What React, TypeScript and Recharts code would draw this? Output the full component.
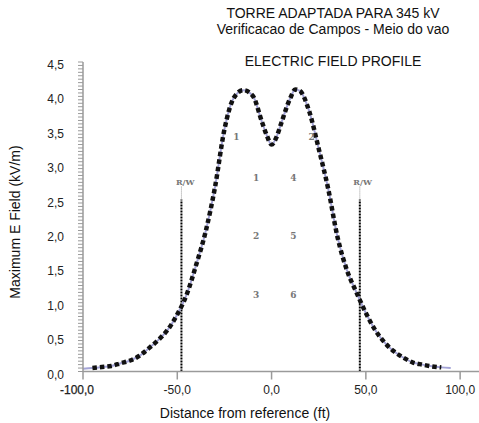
import React from 'react';
import { ComposedChart, Line, XAxis, YAxis, Scatter, ReferenceLine } from 'recharts';

// ---- data ----
const distanceFt = [-100, -95, -90, -85, -80, -75, -70, -65, -60, -55, -50, -45, -40, -35, -30, -25, -20, -15, -10, -5, -2.5, 0, 2.5, 5, 10, 12.5, 15, 20, 25, 30, 35, 40, 45, 50, 55, 60, 65, 70, 75, 80, 85, 90, 95];
const eFieldKvm = [0.04, 0.05, 0.065, 0.08, 0.12, 0.16, 0.23, 0.34, 0.46, 0.61, 0.83, 1.12, 1.55, 2.03, 2.68, 3.52, 3.98, 4.09, 4.01, 3.62, 3.43, 3.3, 3.4, 3.6, 3.98, 4.1, 4.08, 3.78, 3.24, 2.66, 1.95, 1.47, 1.15, 0.85, 0.6, 0.42, 0.29, 0.2, 0.13, 0.1, 0.075, 0.06, 0.05];
const dottedFrom = -95;
const dottedTo = 90;

const xTicks = [-100, -50, 0, 50, 100];
const yMajorTicks = [0, 0.5, 1, 1.5, 2, 2.5, 3, 3.5, 4, 4.5];
const yMinorStep = 0.05;

const rwPositions = [-47.8, 46.8];
const rwLineTop = 2.5;
const rwGuideTop = 2.7;
const rwLabels = [
  { x: -45.8, y: 2.76, label: 'R/W' },
  { x: 48.3, y: 2.76, label: 'R/W' },
];
const conductorLabels = [
  { x: -18.7, y: 3.41, label: '1' },
  { x: 21.2, y: 3.41, label: '2' },
  { x: -8.2, y: 2.82, label: '1' },
  { x: 11.6, y: 2.82, label: '4' },
  { x: -8.2, y: 1.97, label: '2' },
  { x: 11.6, y: 1.97, label: '5' },
  { x: -8.2, y: 1.11, label: '3' },
  { x: 11.6, y: 1.11, label: '6' },
];

const titleLine1 = 'TORRE ADAPTADA PARA 345 kV';
const titleLine2 = 'Verificacao de Campos - Meio do vao';
const subTitle = 'ELECTRIC FIELD PROFILE';
const xTitle = 'Distance from reference (ft)';
const yTitle = 'Maximum E Field (kV/m)';

// ---- derived tables ----
const table = distanceFt.map((d, i) => ({
  x: d,
  field: eFieldKvm[i],
  dotted: d >= dottedFrom && d <= dottedTo ? eFieldKvm[i] : null,
}));
const yAllTicks: number[] = [];
for (let v = 0; v <= 4.5 + 1e-9; v += yMinorStep) yAllTicks.push(Math.round(v * 100) / 100);

const FONT = '"Liberation Sans", Arial, sans-serif';
const AXIS = '#9a9a9a';
const fmt = (v: number) => v.toFixed(1).replace('.', ',');

const XTick = (props: any) => {
  const { x, y, payload } = props;
  const first = payload.value === -100;
  return (
    <text
      x={x + (first ? -6 : 0)}
      y={y}
      dy="0.71em"
      textAnchor="middle"
      fontSize={12}
      fontFamily={FONT}
      fill="#222"
      stroke={first ? '#222' : 'none'}
      strokeWidth={first ? 0.25 : 0}
    >
      {fmt(payload.value)}
    </text>
  );
};

const YTick = (props: any) => {
  const { x, y, payload } = props;
  const v = payload.value;
  const isMajor = yMajorTicks.some((m) => Math.abs(m - v) < 1e-6);
  if (!isMajor) return <g />;
  return (
    <text x={x} y={y} dy={7} textAnchor="end" fontSize={12} fontFamily={FONT} fill="#222">
      {fmt(v)}
    </text>
  );
};

const LabelShape = (props: any) => {
  const { cx, cy, payload } = props;
  return (
    <text
      x={cx}
      y={cy}
      dy={3}
      textAnchor="middle"
      fontSize={payload.label.length > 1 ? 8 : 9}
      fontWeight="bold"
      fontFamily='"DejaVu Serif", serif'
      fill="#777"
    >
      {payload.label}
    </text>
  );
};

const textStyle: React.CSSProperties = {
  position: 'absolute',
  fontFamily: FONT,
  fontSize: 14,
  color: '#111',
  textAlign: 'center',
  whiteSpace: 'nowrap',
  lineHeight: '16px',
};

export default function App() {
  return (
    <div style={{ position: 'absolute', left: 0, top: 0, width: 479, height: 423, background: '#fff', fontFamily: FONT }}>
      <ComposedChart
        width={479}
        height={423}
        data={table}
        margin={{ top: 62, right: 0, bottom: 0, left: 0 }}
      >
        <XAxis
          type="number"
          dataKey="x"
          domain={[-100, 110]}
          ticks={xTicks}
          interval={0}
          height={51.5}
          tickSize={8}
          tickMargin={6}
          axisLine={{ stroke: AXIS, strokeWidth: 1.5 }}
          tickLine={{ stroke: AXIS, strokeWidth: 1.5 }}
          tick={(p: any) => <XTick {...p} />}
          allowDataOverflow
        />
        <YAxis
          type="number"
          domain={[0, 4.5]}
          ticks={yAllTicks}
          interval={0}
          width={83}
          tickSize={5}
          tickMargin={14}
          axisLine={{ stroke: AXIS, strokeWidth: 1.5 }}
          tickLine={{ stroke: AXIS, strokeWidth: 1 }}
          tick={(p: any) => <YTick {...p} />}
          allowDataOverflow
        />
        <Scatter data={[...conductorLabels, ...rwLabels]} dataKey="y" isAnimationActive={false} shape={(p: any) => <LabelShape {...p} />} />
        {rwPositions.map((p, i) => (
          <ReferenceLine
            key={'rw' + i}
            segment={[{ x: p, y: 0 }, { x: p, y: rwLineTop }]}
            stroke="#000"
            strokeWidth={2}
            strokeDasharray="2 1"
          />
        ))}
        {rwPositions.map((p, i) => (
          <ReferenceLine
            key={'rwg' + i}
            segment={[{ x: p, y: rwLineTop }, { x: p, y: rwGuideTop }]}
            stroke="#999"
            strokeWidth={1}
            strokeDasharray="1 1"
          />
        ))}
        <Line
          type="monotone"
          dataKey="field"
          stroke="#a3a3d6"
          strokeWidth={2}
          dot={false}
          activeDot={false}
          isAnimationActive={false}
        />
        <Line
          type="monotone"
          dataKey="dotted"
          stroke="#111"
          strokeWidth={4.5}
          strokeDasharray="4.5 3"
          dot={false}
          activeDot={false}
          isAnimationActive={false}
        />
      </ComposedChart>
      <div style={{ ...textStyle, left: 183, width: 300, top: 5 }}>{titleLine1}</div>
      <div style={{ ...textStyle, left: 183, width: 300, top: 21 }}>{titleLine2}</div>
      <div style={{ ...textStyle, left: 183, width: 300, top: 53 }}>{subTitle}</div>
      <div style={{ ...textStyle, left: 95, width: 300, top: 405 }}>{xTitle}</div>
      <div
        style={{
          ...textStyle,
          left: 15 - 110,
          width: 220,
          top: 222 - 8,
          transform: 'rotate(-90deg)',
          transformOrigin: '50% 50%',
        }}
      >
        {yTitle}
      </div>
    </div>
  );
}
